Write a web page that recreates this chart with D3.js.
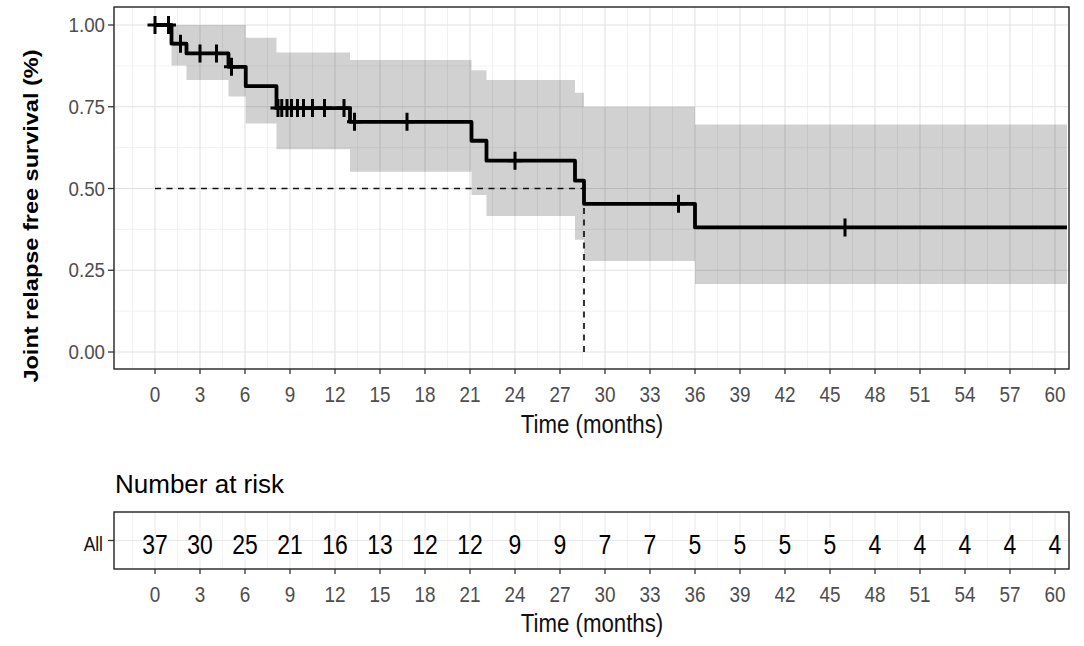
<!DOCTYPE html>
<html>
<head>
<meta charset="utf-8">
<script src="https://cdn.jsdelivr.net/npm/d3@7"></script>
<style>
  body { margin: 0; background: #fff; }
  svg { display: block; }
  text { font-family: "Liberation Sans", Arial, sans-serif; }
  .tick-lab { fill: #4d4d4d; }
</style>
</head>
<body>
<div id="chart"></div>
<script>
'use strict';

// Kaplan-Meier steps
var stepTimes = [0, 1.1, 2.1, 4.9, 6.05, 8.1, 13.0, 21.1, 22.1, 28.0, 28.6, 36.0];
var survival  = [1.0, 0.943, 0.913, 0.872, 0.813, 0.746, 0.704, 0.646, 0.585, 0.524, 0.453, 0.381];
var lowerCI   = [1.0, 0.876, 0.832, 0.781, 0.699, 0.620, 0.551, 0.480, 0.416, 0.343, 0.278, 0.208];
var upperCI   = [1.0, 1.0, 1.0, 1.0, 0.961, 0.916, 0.893, 0.862, 0.832, 0.793, 0.750, 0.696];
var lastTime = 60.8;
var censorTimes = [0, 0.9, 1.7, 3.0, 4.1, 5.1, 8.2, 8.45, 8.8, 9.1, 9.5, 9.9, 10.5, 11.3, 12.6, 13.3, 16.8, 24.0, 34.9, 46.0];
var medianTime = 28.6;

// tick labels + risk table
var xTicks = [0, 3, 6, 9, 12, 15, 18, 21, 24, 27, 30, 33, 36, 39, 42, 45, 48, 51, 54, 57, 60];
var yTicks = [0, 0.25, 0.5, 0.75, 1.0];
var nAtRisk = [37, 30, 25, 21, 16, 13, 12, 12, 9, 9, 7, 7, 5, 5, 5, 5, 4, 4, 4, 4, 4];
var strata = ['All'];

var W = 1084, H = 646;
var panel = { left: 114, right: 1069, top: 7, bottom: 369 };
var table = { left: 114, right: 1069, top: 512, bottom: 569 };

var svg = d3.select('#chart').append('svg')
  .attr('width', W)
  .attr('height', H);

// same month->pixel mapping for plot and table
var x = d3.scaleLinear().domain([0, 60]).range([155, 1055]);
var y = d3.scaleLinear().domain([0, 1]).range([352, 25]);

var xMin = x.invert(panel.left), xMax = x.invert(panel.right);
var minorX = d3.range(-1.5, xMax, 3).filter(function(v){ return v > xMin; });
var minorY = [0.125, 0.375, 0.625, 0.875];

// no condensed font installed, so squeeze the text horizontally
var narrow = function(sel, sx) {
  sel.each(function(){
    var el = d3.select(this);
    var tx = +el.attr('x'), ty = +el.attr('y');
    el.attr('x', 0).attr('y', 0)
      .attr('transform', 'translate(' + tx + ',' + ty + ') scale(' + sx + ',1)');
  });
};

/* ---------- main panel ---------- */
var g = svg.append('g');

g.selectAll('.gx-minor').data(minorX).enter().append('line')
  .attr('x1', x).attr('x2', x).attr('y1', panel.top).attr('y2', panel.bottom)
  .style('stroke', '#eeeeee').style('stroke-width', 0.8);
g.selectAll('.gy-minor').data(minorY).enter().append('line')
  .attr('x1', panel.left).attr('x2', panel.right).attr('y1', y).attr('y2', y)
  .style('stroke', '#eeeeee').style('stroke-width', 0.8);
g.selectAll('.gx').data(xTicks).enter().append('line')
  .attr('x1', x).attr('x2', x).attr('y1', panel.top).attr('y2', panel.bottom)
  .style('stroke', '#e1e1e1').style('stroke-width', 1.1);
g.selectAll('.gy').data(yTicks).enter().append('line')
  .attr('x1', panel.left).attr('x2', panel.right).attr('y1', y).attr('y2', y)
  .style('stroke', '#e1e1e1').style('stroke-width', 1.1);

var km = stepTimes.map(function(t, i){
  return { t: t, s: survival[i], lo: lowerCI[i], hi: upperCI[i] };
});
km.push({ t: lastTime, s: survival[survival.length-1], lo: lowerCI[lowerCI.length-1], hi: upperCI[upperCI.length-1] });

// confidence band
g.append('path')
  .datum(km)
  .attr('d', d3.area().curve(d3.curveStepAfter)
    .x(function(d){ return x(d.t); })
    .y0(function(d){ return y(d.lo); })
    .y1(function(d){ return y(d.hi); }))
  .style('fill', '#000')
  .style('fill-opacity', 0.18);

// median lines
g.append('path')
  .attr('d', 'M' + x(0) + ',' + y(0.5) + 'H' + x(medianTime) + 'V' + y(0))
  .style('fill', 'none')
  .style('stroke', '#111')
  .style('stroke-width', 1.7)
  .style('stroke-dasharray', '6,5.5');

// survival curve
g.append('path')
  .datum(km)
  .attr('d', d3.line().curve(d3.curveStepAfter)
    .x(function(d){ return x(d.t); })
    .y(function(d){ return y(d.s); }))
  .style('fill', 'none')
  .style('stroke', '#000')
  .style('stroke-width', 3.8)
  .style('stroke-linejoin', 'round');

// censor marks
var survAt = function(t){
  var i = d3.bisectRight(stepTimes, t) - 1;
  return survival[Math.max(i, 0)];
};
g.selectAll('.censor').data(censorTimes).enter().append('path')
  .attr('d', function(t){
    var cx = x(t), cy = y(survAt(t));
    return 'M' + (cx-7.5) + ',' + cy + 'H' + (cx+7.5) + 'M' + cx + ',' + (cy-9) + 'V' + (cy+9);
  })
  .style('stroke', '#000')
  .style('stroke-width', 3);

g.append('rect')
  .attr('x', panel.left).attr('y', panel.top)
  .attr('width', panel.right - panel.left).attr('height', panel.bottom - panel.top)
  .style('fill', 'none').style('stroke', '#222').style('stroke-width', 1.4);

// axes
var xAxisMain = svg.append('g');
xAxisMain.selectAll('line').data(xTicks).enter().append('line')
  .attr('x1', x).attr('x2', x).attr('y1', panel.bottom).attr('y2', panel.bottom + 5)
  .style('stroke', '#333').style('stroke-width', 1.3);
xAxisMain.selectAll('text').data(xTicks).enter().append('text')
  .attr('class', 'tick-lab')
  .attr('x', x).attr('y', 402)
  .attr('text-anchor', 'middle')
  .attr('font-size', 22)
  .text(function(d){ return d; })
  .call(narrow, 0.86);

var yAxis = svg.append('g');
yAxis.selectAll('line').data(yTicks).enter().append('line')
  .attr('x1', panel.left - 6).attr('x2', panel.left).attr('y1', y).attr('y2', y)
  .style('stroke', '#333').style('stroke-width', 1.3);
yAxis.selectAll('text').data(yTicks).enter().append('text')
  .attr('class', 'tick-lab')
  .attr('x', panel.left - 9).attr('y', y)
  .attr('dy', '0.36em')
  .attr('text-anchor', 'end')
  .attr('font-size', 19.5)
  .text(function(d){ return d3.format('.2f')(d); })
  .call(narrow, 0.96);

svg.append('text')
  .attr('x', 592).attr('y', 433)
  .attr('text-anchor', 'middle')
  .attr('font-size', 25)
  .style('fill', '#111')
  .text('Time (months)')
  .call(narrow, 0.89);

svg.append('text')
  .attr('transform', 'translate(30,216) rotate(-90) scale(1.12,1)')
  .attr('dy', '0.36em')
  .attr('text-anchor', 'middle')
  .attr('font-family', '"Open Sans", "Noto Sans", sans-serif')
  .attr('font-weight', 700)
  .attr('font-size', 21)
  .style('fill', '#000')
  .text('Joint relapse free survival (%)');

/* ---------- risk table ---------- */
svg.append('text')
  .attr('x', 115).attr('y', 493)
  .attr('font-size', 26)
  .style('fill', '#000')
  .text('Number at risk');

var t = svg.append('g');
var tMid = (table.top + table.bottom) / 2;
var tMinorX = d3.range(-1.5, xMax, 3).filter(function(v){ return v > x.invert(table.left); });

t.selectAll('.tgx-minor').data(tMinorX).enter().append('line')
  .attr('x1', x).attr('x2', x).attr('y1', table.top).attr('y2', table.bottom)
  .style('stroke', '#f0f0f0').style('stroke-width', 0.8);
t.selectAll('.tgx').data(xTicks).enter().append('line')
  .attr('x1', x).attr('x2', x).attr('y1', table.top).attr('y2', table.bottom)
  .style('stroke', '#e8e8e8').style('stroke-width', 1);
t.append('line')
  .attr('x1', table.left).attr('x2', table.right).attr('y1', tMid).attr('y2', tMid)
  .style('stroke', '#e8e8e8').style('stroke-width', 1);

t.selectAll('.risk').data(nAtRisk).enter().append('text')
  .attr('x', function(d, i){ return x(xTicks[i]); })
  .attr('y', tMid + 3)
  .attr('dy', '0.36em')
  .attr('text-anchor', 'middle')
  .attr('font-size', 28)
  .style('fill', '#000')
  .text(function(d){ return d; })
  .call(narrow, 0.82);

t.append('rect')
  .attr('x', table.left).attr('y', table.top)
  .attr('width', table.right - table.left).attr('height', table.bottom - table.top)
  .style('fill', 'none').style('stroke', '#222').style('stroke-width', 1.4);

t.selectAll('.strata').data(strata).enter().append('g').each(function(s){
  d3.select(this).append('line')
    .attr('x1', table.left - 6).attr('x2', table.left).attr('y1', tMid).attr('y2', tMid)
    .style('stroke', '#333').style('stroke-width', 1.3);
  d3.select(this).append('text')
    .attr('x', table.left - 11).attr('y', tMid + 3)
    .attr('dy', '0.36em')
    .attr('text-anchor', 'end')
    .attr('font-size', 21)
    .style('fill', '#111')
    .text(s)
    .call(narrow, 0.83);
});

var xAxisTable = svg.append('g');
xAxisTable.selectAll('line').data(xTicks).enter().append('line')
  .attr('x1', x).attr('x2', x).attr('y1', table.bottom).attr('y2', table.bottom + 5)
  .style('stroke', '#333').style('stroke-width', 1.3);
xAxisTable.selectAll('text').data(xTicks).enter().append('text')
  .attr('class', 'tick-lab')
  .attr('x', x).attr('y', 602)
  .attr('text-anchor', 'middle')
  .attr('font-size', 22)
  .text(function(d){ return d; })
  .call(narrow, 0.86);

svg.append('text')
  .attr('x', 592).attr('y', 632)
  .attr('text-anchor', 'middle')
  .attr('font-size', 25)
  .style('fill', '#111')
  .text('Time (months)')
  .call(narrow, 0.89);
</script>
</body>
</html>
